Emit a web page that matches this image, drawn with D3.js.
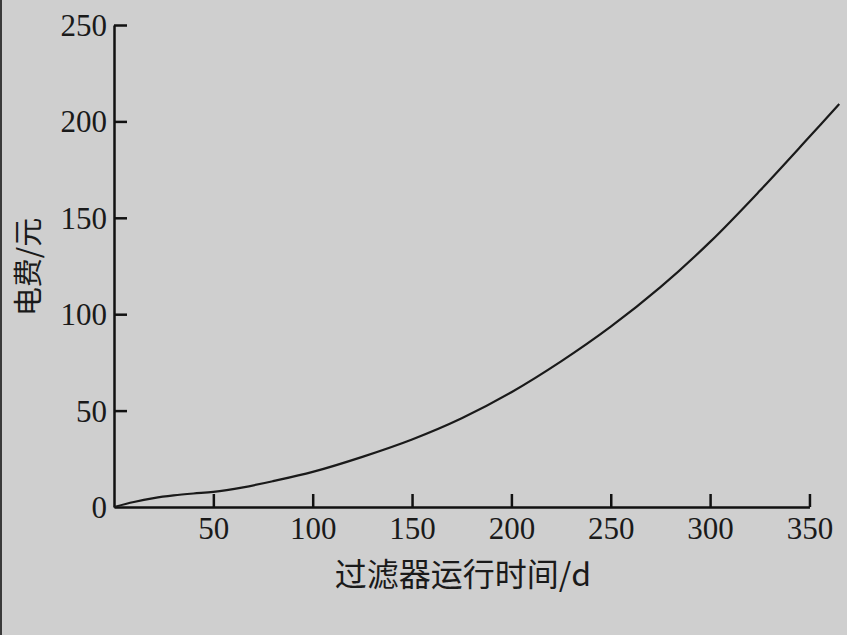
<!DOCTYPE html>
<html>
<head>
<meta charset="utf-8">
<script src="https://cdn.jsdelivr.net/npm/d3@7"></script>
<style>
  html, body { margin: 0; padding: 0; background: #cfcfcf; }
  svg { display: block; }
</style>
</head>
<body>
<script>
// Data
const days = [0, 10, 20, 30, 40, 50, 65, 80, 100, 125, 150, 175, 200, 225, 250, 275, 300, 325, 350, 365];
const cost = [0, 2.6, 4.6, 6.0, 7.0, 7.8, 10.2, 13.4, 18.2, 26, 35, 46, 59.5, 75.5, 93.5, 114, 137.5, 164, 192, 209];
const xTicks = [50, 100, 150, 200, 250, 300, 350];
const yTicks = [0, 50, 100, 150, 200, 250];
const xTitle = "过滤器运行时间/d";
const yTitle = "电费/元";

const W = 847, H = 635;
const svg = d3.select("body").append("svg").attr("width", W).attr("height", H);

svg.append("rect").attr("width", W).attr("height", H).attr("fill", "#cfcfcf");
svg.append("rect").attr("x", 0).attr("y", 0).attr("width", 2).attr("height", H).attr("fill", "#3a3a3a");

const x0 = 114, pxPerDay = 1.987;
const x = d3.scaleLinear().domain([0, 365]).range([x0, x0 + 365 * pxPerDay]);
const y = d3.scaleLinear().domain([0, 250]).range([507, 25]);

const tickFont = "'Liberation Serif', 'Times New Roman', serif";
const cjkFont = "'Noto Sans CJK SC', 'Noto Sans CJK JP', sans-serif";

// X axis (line runs to the last tick, 350)
const xAxisScale = x.copy().domain([0, 350]).range([x(0), x(350)]);
const gx = svg.append("g").attr("transform", `translate(0,${y(0)})`)
  .call(d3.axisBottom(xAxisScale).tickValues(xTicks).tickSize(-13).tickSizeOuter(0).tickPadding(0).tickFormat(d3.format("d")));
gx.select(".domain").attr("stroke", "#111").attr("stroke-width", 2.5);
gx.selectAll(".tick line").attr("stroke", "#111").attr("stroke-width", 2.5);
gx.selectAll(".tick text")
  .attr("y", 32).attr("dy", 0)
  .attr("fill", "#1a1a1a")
  .style("font-family", tickFont).style("font-size", "31px");

// Y axis
const gy = svg.append("g").attr("transform", `translate(${x(0)},0)`)
  .call(d3.axisLeft(y).tickValues(yTicks).tickSize(-13).tickSizeOuter(0).tickPadding(0).tickFormat(d3.format("d")));
gy.select(".domain").attr("stroke", "#111").attr("stroke-width", 2.5);
gy.selectAll(".tick line").attr("stroke", "#111").attr("stroke-width", 2.5)
  .attr("display", d => d === 0 ? "none" : null);
gy.selectAll(".tick text")
  .attr("x", -7).attr("dy", "0.34em")
  .attr("fill", "#1a1a1a")
  .style("font-family", tickFont).style("font-size", "31px");

// Curve
const pts = days.map((d, i) => [d, cost[i]]);
const line = d3.line().x(d => x(d[0])).y(d => y(d[1])).curve(d3.curveCatmullRom.alpha(0.5));
svg.append("path").datum(pts)
  .attr("d", line)
  .attr("fill", "none")
  .attr("stroke", "#1a1a1a")
  .attr("stroke-width", 2.2);

// Axis titles
svg.append("text")
  .attr("x", 463).attr("y", 572)
  .attr("text-anchor", "middle").attr("dominant-baseline", "central")
  .attr("fill", "#1a1a1a")
  .style("font-family", cjkFont).style("font-size", "32px")
  .text(xTitle);

svg.append("text")
  .attr("transform", "translate(26,267) rotate(-90)")
  .attr("text-anchor", "middle").attr("dominant-baseline", "central")
  .attr("fill", "#1a1a1a")
  .style("font-family", cjkFont).style("font-size", "29px")
  .text(yTitle);
</script>
</body>
</html>
